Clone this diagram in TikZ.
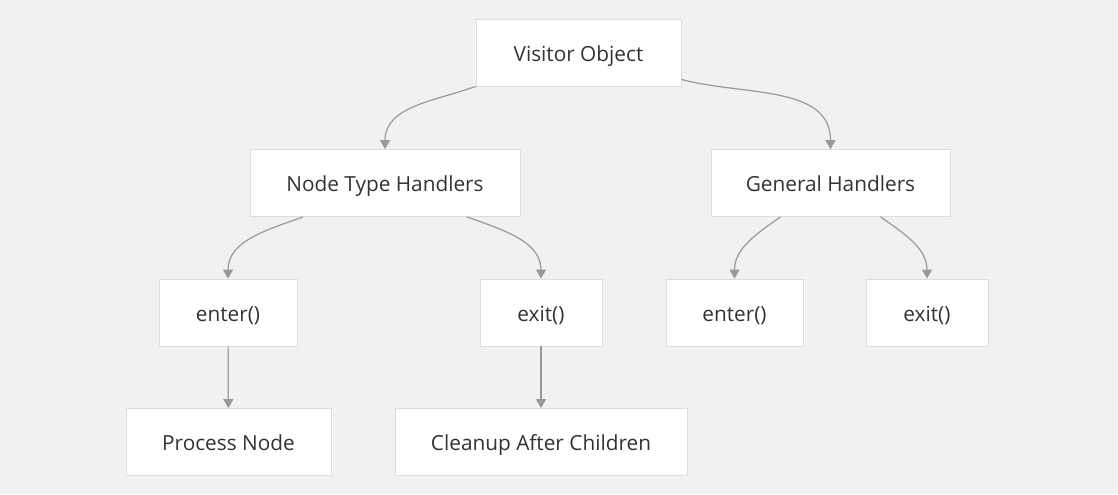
\documentclass[tikz,border=0pt]{standalone}
\usepackage{fontspec}
\setmainfont{Open Sans}
\usetikzlibrary{arrows.meta}
\definecolor{bgcol}{HTML}{F2F1F0}
\definecolor{boxline}{HTML}{DDDDDD}
\definecolor{edgecol}{HTML}{999999}
\definecolor{txtcol}{HTML}{333333}
\tikzset{
  box/.style={draw=boxline,fill=white,rectangle,inner sep=0pt,minimum height=33.5pt,text height=8.6pt,text depth=0pt,text=txtcol,font=\fontsize{10.4}{12}\selectfont},
  link/.style={draw=edgecol,line width=0.6pt,-{Triangle[width=5pt,length=4.5pt]}}
}
\begin{document}
\begin{tikzpicture}[x=0.5pt,y=-0.5pt]
        %% Canvas
        \fill[bgcol] (0,0) rectangle (1118,494);
        \useasboundingbox (0,0) rectangle (1118,494);
        %% Boxes
        \node[box,minimum width=102.5pt] (visitor) at (578.5,52.5) {Visitor Object};
        \node[box,minimum width=135pt] (typeh) at (385,183) {Node Type Handlers};
        \node[box,minimum width=119.5pt] (generalh) at (830.5,183) {General Handlers};
        \node[box,minimum width=69pt] (tenter) at (228,312.5) {enter()};
        \node[box,minimum width=61pt] (texit) at (541,312.5) {exit()};
        \node[box,minimum width=68.5pt] (genter) at (734.5,312.5) {enter()};
        \node[box,minimum width=61pt] (gexit) at (927,312.5) {exit()};
        \node[box,minimum width=102.5pt] (process) at (228.5,442) {Process Node};
        \node[box,minimum width=146pt] (cleanup) at (541,442) {Cleanup After Children};
        %% Links
        \draw[link] (visitor.south west) to[out=200,in=90] (typeh.north);
        \draw[link] ([yshift=3.5pt]visitor.south east) to[out=-15,in=90] (generalh.north);
        \draw[link] ([xshift=-41pt]typeh.south) to[out=200,in=90] (tenter.north);
        \draw[link] ([xshift=41pt]typeh.south) to[out=-20,in=90] (texit.north);
        \draw[link] ([xshift=-25pt]generalh.south) to[out=215,in=90] (genter.north);
        \draw[link] ([xshift=25pt]generalh.south) to[out=-35,in=90] (gexit.north);
        \draw[link] (tenter) -- (process);
        \draw[link] (texit) -- (cleanup);
    \end{tikzpicture}
\end{document}
